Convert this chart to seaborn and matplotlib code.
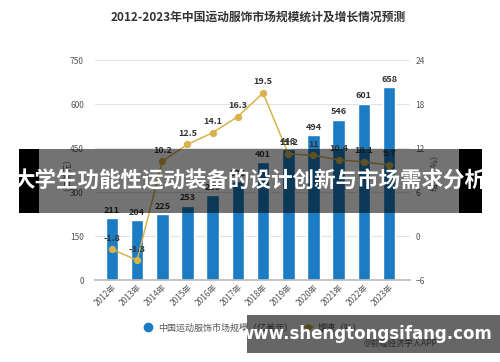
import matplotlib
matplotlib.use("Agg")
import matplotlib.pyplot as plt
import seaborn as sns
import pandas as pd
from matplotlib.patches import Rectangle
from matplotlib.lines import Line2D

years = ["2012年", "2013年", "2014年", "2015年", "2016年", "2017年",
         "2018年", "2019年", "2020年", "2021年", "2022年", "2023年"]
market = [211, 204, 225, 253, 289, 336, 401, 446, 494, 546, 601, 658]
growth = [-1.8, -3.3, 10.2, 12.5, 14.1, 16.3, 19.5, 11.2, 11.0, 10.4, 10.1, 9.7]
left_ticks = [0, 150, 300, 450, 600, 750]
right_ticks = [-6, 0, 6, 12, 18, 24]

title = "2012-2023年中国运动服饰市场规模统计及增长情况预测"
bar_name = "中国运动服饰市场规模（亿美元）"
line_name = "增速（%）"
banner = "大学生功能性运动装备的设计创新与市场需求分析"
site = "www.shengtongsifang.com"
source = "@前瞻经济学人APP"

sns.set_theme(style="white")
plt.rcParams['font.family'] = ['Noto Sans CJK SC', 'DejaVu Sans']

BLUE = "#1b7cc4"
GOLD = "#d8b24a"
TXT = "#555555"

df = pd.DataFrame({"year": years, "market": market, "growth": growth})
df["x"] = range(len(years))

fig = plt.figure(figsize=(5, 3.62), dpi=100)
ax = fig.add_axes([0.19, 0.2265, 0.63, 0.6075])
sns.barplot(data=df, x="year", y="market", color=BLUE, width=0.5, ax=ax, saturation=1)
ax.set_ylim(0, 750)
ax.set_yticks(left_ticks)
ax.set_xlim(-0.67, 11.83)
ax.grid(axis="y", color="#e3e3e3", linewidth=0.8)
ax.set_axisbelow(True)
for s in ["top", "left", "right"]:
    ax.spines[s].set_visible(False)
ax.spines["bottom"].set_color("#bbbbbb")
ax.tick_params(axis="y", labelsize=6, colors=TXT, length=0, pad=8)
ax.tick_params(axis="x", labelsize=6, colors=TXT, length=0, pad=2)
for lab in ax.get_xticklabels():
    lab.set_rotation(45)
    lab.set_ha("right")
    lab.set_rotation_mode("anchor")
ax.set_xlabel("")
ax.set_ylabel("（亿美元）", fontsize=6, color=TXT, labelpad=2)
for i, v in enumerate(market):
    ax.text(i, v + 12, str(v), ha="center", va="bottom", fontsize=6.5,
            fontweight="bold", color="#333333")

ax2 = ax.twinx()
sns.lineplot(data=df, x="x", y="growth", color=GOLD, linewidth=1.1,
             marker="o", markersize=4.5, markeredgecolor=GOLD, ax=ax2)
ax2.set_ylim(-6, 24)
ax2.set_yticks(right_ticks)
ax2.set_xlim(-0.67, 11.83)
for s in ["top", "left", "right", "bottom"]:
    ax2.spines[s].set_visible(False)
ax2.tick_params(axis="y", labelsize=6, colors=TXT, length=0, pad=4)
ax2.set_ylabel("增速（%）", fontsize=6, color=TXT, labelpad=4)
ax2.set_xlabel("")
for i, g in enumerate(growth):
    ax2.text(i, g + 0.9, f"{g:g}", ha="center", va="bottom", fontsize=6.5,
             fontweight="bold", color="#333333")

fig.text(0.516, 0.952, title, ha="center", va="center", fontsize=8.5,
         fontweight="bold", color="#333333")

handles = [Line2D([0], [0], marker="o", linestyle="", color=BLUE, markersize=6),
           Line2D([0], [0], marker="o", linestyle="-", color=GOLD, markersize=4, linewidth=1.2)]
fig.legend(handles, [bar_name, line_name], loc="center", bbox_to_anchor=(0.505, 0.094),
           ncol=2, frameon=False, fontsize=6.5, handlelength=1.2, columnspacing=1.0,
           handletextpad=0.5, labelcolor=TXT)
fig.text(0.728, 0.05, source, ha="left", va="center", fontsize=6, color="#666666")

# banner overlay
fig.patches.append(Rectangle((0.038, 0.412), 0.04, 0.177, transform=fig.transFigure,
                             facecolor="black", edgecolor="none", zorder=10))
fig.patches.append(Rectangle((0.078, 0.412), 0.84, 0.177, transform=fig.transFigure,
                             facecolor="black", alpha=0.55, edgecolor="none", zorder=10))
fig.patches.append(Rectangle((0.918, 0.412), 0.046, 0.177, transform=fig.transFigure,
                             facecolor="black", edgecolor="none", zorder=10))
fig.text(0.5, 0.5, banner, ha="center", va="center", fontsize=15.5, fontweight="bold",
         color="white", zorder=11)

# site overlay
fig.patches.append(Rectangle((0.494, 0.025), 0.506, 0.105, transform=fig.transFigure,
                             facecolor="black", alpha=0.6, edgecolor="none", zorder=10))
fig.text(0.985, 0.077, site, ha="right", va="center", fontsize=12, fontweight="bold",
         color="white", family=["DejaVu Sans"], zorder=11)

fig.savefig("out.png", dpi=100)
